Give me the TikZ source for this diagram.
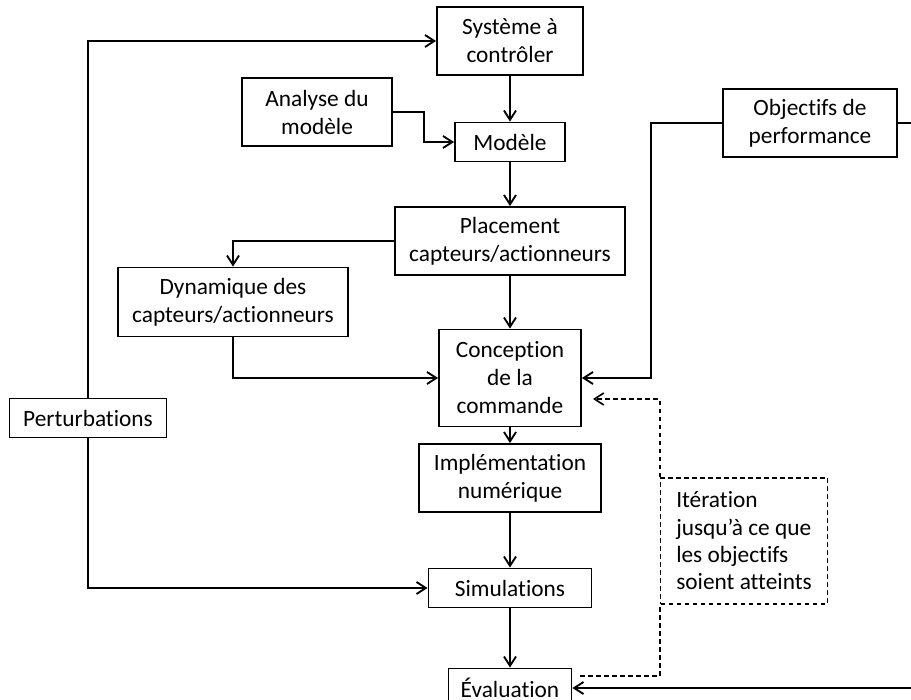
\documentclass[tikz,border=0pt]{standalone}
\usepackage{fontspec}
\setmainfont{Carlito}[Ligatures=NoCommon]
\usetikzlibrary{arrows.meta}

\begin{document}
\begin{tikzpicture}[x=0.75pt,y=-0.75pt,
  bloc/.style={draw, line width=1.4pt, align=center, inner sep=0pt,
    font=\fontsize{17.5}{21}\selectfont},
  taille/.style 2 args={minimum width=#1*0.75pt, minimum height=#2*0.75pt},
  fleche/.style={line width=1.4pt, -{Straight Barb[length=7pt,width=9pt]}},
  trait/.style={line width=1.4pt},
  pointille/.style={line width=1.2pt, dash pattern=on 3.5pt off 2.5pt}]

  \useasboundingbox (0,0) rectangle (911,700);
  \clip (0,0) rectangle (911,700);

  % Draw the blocks
  \node[bloc, taille={146}{68}] (sys) at (510,41) {Système à\\contrôler};
  \node[bloc, taille={150}{68}] (ana) at (317,112) {Analyse du\\modèle};
  \node[bloc, taille={110}{39}] (mod) at (510,142) {Modèle};
  \node[bloc, taille={174}{68}] (obj) at (810,123) {Objectifs de\\performance};
  \node[bloc, taille={230}{68}] (plc) at (510,241) {Placement\\capteurs/actionneurs};
  \node[bloc, taille={230}{69}] (dyn) at (233,302) {Dynamique des\\capteurs/actionneurs};
  \node[bloc, taille={142}{97}] (con) at (510,378) {Conception\\de la\\commande};
  \node[bloc, taille={157}{39}] (per) at (88,418) {Perturbations};
  \node[bloc, taille={182}{68}] (imp) at (510,478) {Implémentation\\numérique};
  \node[bloc, taille={163}{39}] (sim) at (510,588) {Simulations};
  \node[bloc, taille={123}{39}] (eva) at (510,688) {Évaluation};

  % Iteration box
  \node[bloc, pointille, taille={167}{126}, align=left,
    font=\fontsize{17.5}{20.5}\selectfont] (ite) at (744,541)
    {Itération\\jusqu’à ce que\\les objectifs\\soient atteints};

  % Free ends
  \coordinate (objout) at (911,123);
  \coordinate (evain) at (911,688);
  \coordinate (retour) at (580,676);
  \coordinate (retourfin) at (593,399);

  % Main chain
  \draw[fleche] (sys) -- (mod);
  \draw[fleche] (mod) -- (plc);
  \draw[fleche] (plc) -- (con);
  \draw[fleche] (con) -- (imp);
  \draw[fleche] (imp) -- (sim);
  \draw[fleche] (sim) -- (eva);

  % Side inputs
  \draw[fleche] (ana.east) -- ++(31,0) |- (mod.west);
  \draw[fleche] (plc.west) -| (dyn.north);
  \draw[fleche] (dyn.south) |- (con.west);
  \draw[fleche] (obj.west) -- ++(-71,0) |- (con.east);
  \draw[trait] (obj.east) -- (objout);
  \draw[fleche] (evain) -- (eva.east);

  % Perturbations
  \draw[fleche] (per.north) |- (sys.west);
  \draw[fleche] (per.south) |- (sim.west);

  % Iteration loop
  \draw[pointille] (retour) -| (ite.south west);
  \draw[pointille, -{Straight Barb[length=7pt,width=9pt]}] (ite.north west) |- (retourfin);

\end{tikzpicture}
\end{document}
